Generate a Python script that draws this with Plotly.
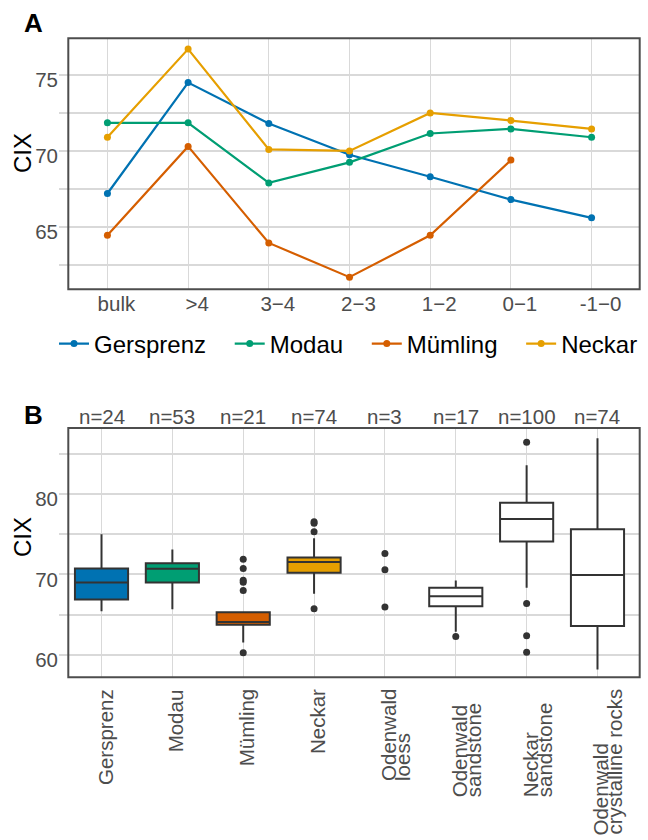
import plotly.graph_objects as go

# ---------------- data ----------------
fractions = ["bulk", ">4", "3\u22124", "2\u22123", "1\u22122", "0\u22121", "-1\u22120"]
gersprenz = [67.2, 74.5, 71.8, 69.75, 68.3, 66.8, 65.6]
modau = [71.85, 71.85, 67.9, 69.25, 71.15, 71.45, 70.9]
muemling = [64.45, 70.3, 63.95, 61.7, 64.45, 69.4, None]
neckar = [70.9, 76.7, 70.1, 70.0, 72.5, 72.0, 71.45]
river_names = ["Gersprenz", "Modau", "Mümling", "Neckar"]

groups = ["Gersprenz", "Modau", "Mümling", "Neckar", "Odenwald<br>loess",
          "Odenwald<br>sandstone", "Neckar<br>sandstone", "Odenwald<br>crystalline rocks"]
n_counts = [24, 53, 21, 74, 3, 17, 100, 74]
q1 = [66.9, 69.0, 63.75, 70.2, None, 66.05, 74.1, 63.6]
median = [69.0, 70.7, 64.1, 71.55, None, 67.3, 76.9, 69.95]
q3 = [70.75, 71.4, 65.3, 72.1, None, 68.35, 78.9, 75.6]
lower_whisker = [65.45, 65.7, 61.55, 67.6, None, 62.9, 68.35, 58.2]
upper_whisker = [75.0, 73.1, 65.3, 74.5, None, 69.25, 83.55, 86.9]
points = [
    [],
    [],
    [71.9, 70.75, 69.3, 69.05, 68.0, 60.3],
    [76.55, 76.35, 75.3, 65.75],
    [72.6, 70.6, 65.95],
    [62.3],
    [86.4, 66.4, 62.4, 60.35],
    [],
]

# ---------------- style ----------------
colors = ["#0072B2", "#009E73", "#D55E00", "#E69F00"]
box_fills = colors + ["white"] * 4
label_drop = [0, 0, 0, 0, 0, 13, 13, 0]   # extra downward offset of some axis labels (px)
FONT = "Liberation Sans, Arial, sans-serif"
TICK_GREY = "#4d4d4d"
GRID = "#d9d9d9"
W, H = 648, 840
FS = 20.5


def px_x(p):
    return p / W


def px_y(p):
    return 1 - p / H


fig = go.Figure()

# Panel A lines
for k, (name, vals, col) in enumerate(zip(river_names, [gersprenz, modau, muemling, neckar], colors)):
    pad = "\u00a0\u2002" if k < len(river_names) - 1 else ""
    fig.add_trace(go.Scatter(
        x=fractions, y=vals, mode="lines+markers", name=name + pad,
        line=dict(color=col, width=2.2), marker=dict(color=col, size=7),
        xaxis="x", yaxis="y", connectgaps=False,
    ))

# Panel B boxes
for i in range(len(groups)):
    if q1[i] is not None:
        fig.add_trace(go.Box(
            x=[i], q1=[q1[i]], median=[median[i]], q3=[q3[i]],
            lowerfence=[lower_whisker[i]], upperfence=[upper_whisker[i]],
            width=0.75, fillcolor=box_fills[i],
            line=dict(color="#333333", width=2), whiskerwidth=0,
            boxpoints=False, showlegend=False, xaxis="x2", yaxis="y2",
            hoverinfo="skip",
        ))
    if points[i]:
        fig.add_trace(go.Scatter(
            x=[i] * len(points[i]), y=points[i], mode="markers",
            marker=dict(color="#333333", size=7), showlegend=False,
            xaxis="x2", yaxis="y2", hoverinfo="skip",
        ))

xdom = [px_x(59), px_x(640)]
fig.update_layout(
    width=W, height=H, margin=dict(l=0, r=0, t=0, b=0, autoexpand=False),
    paper_bgcolor="white", plot_bgcolor="white",
    font=dict(family=FONT, color=TICK_GREY),
    boxmode="overlay",
    xaxis=dict(domain=xdom, anchor="y", type="category", categoryarray=fractions,
               range=[-0.6, 6.6], showgrid=True, gridcolor=GRID, gridwidth=1.1,
               ticks="", showline=False, zeroline=False, automargin=False,
               tickfont=dict(size=FS, color=TICK_GREY), ticklabelshift=9),
    yaxis=dict(domain=[px_y(289.3), px_y(38.3)], anchor="x", range=[60.9, 77.41],
               tick0=0, dtick=5, showgrid=True, gridcolor=GRID, gridwidth=1.8,
               minor=dict(dtick=2.5, showgrid=True, gridcolor=GRID, gridwidth=1.8),
               ticks="", showline=False, zeroline=False, automargin=False,
               tickfont=dict(size=FS, color=TICK_GREY), ticklabelshift=5),
    xaxis2=dict(domain=xdom, anchor="y2", range=[-0.6, 7.6],
                tickvals=list(range(len(groups))), showticklabels=False,
                showgrid=True, gridcolor=GRID, gridwidth=1.1, automargin=False,
                ticks="", showline=False, zeroline=False),
    yaxis2=dict(domain=[px_y(677.3), px_y(428)], anchor="x2", range=[57.24, 88.18],
                tick0=0, dtick=10, showgrid=True, gridcolor=GRID, gridwidth=1.8,
                minor=dict(dtick=5, showgrid=True, gridcolor=GRID, gridwidth=1.8),
                ticks="", showline=False, zeroline=False, automargin=False,
                tickfont=dict(size=FS, color=TICK_GREY), ticklabelshift=5),
    legend=dict(orientation="h", x=px_x(54), y=px_y(344), xanchor="left", yanchor="middle",
                font=dict(size=24, color="black"), bgcolor="rgba(0,0,0,0)",
                itemwidth=30, borderwidth=0),
)

# panel borders
for top, bot in [(38.3, 289.3), (428, 677.3)]:
    fig.add_shape(type="rect", xref="paper", yref="paper",
                  x0=px_x(68.3), x1=px_x(639.7), y0=px_y(bot), y1=px_y(top),
                  line=dict(color="#4d4d4d", width=2), fillcolor="rgba(0,0,0,0)",
                  layer="above")

ann = []
for lab, yc in [("A", 23), ("B", 415)]:
    ann.append(dict(text=f"<b>{lab}</b>", x=px_x(33), y=px_y(yc), xref="paper", yref="paper",
                    xanchor="center", yanchor="middle",
                    showarrow=False, font=dict(size=26, color="black")))
for yc in [153, 537]:
    ann.append(dict(text="CIX", x=px_x(22), y=px_y(yc), xref="paper", yref="paper",
                    xanchor="center", yanchor="middle",
                    textangle=-90, showarrow=False, font=dict(size=24, color="black")))
for i, n in enumerate(n_counts):
    ann.append(dict(text=f"n={n}", x=i, xref="x2", y=px_y(416), yref="paper",
                    xanchor="center", yanchor="middle",
                    showarrow=False, font=dict(size=FS, color=TICK_GREY)))

HIDE = "<span style='color:rgba(0,0,0,0)'>{}</span>"
LINE_TIGHTEN = 1.3 * FS - 13.7  # ggplot's tight lineheight vs plotly's 1.3em
for i, g in enumerate(groups):
    lines = g.split("<br>")
    for k in range(len(lines)):
        txt = "<br>".join(l if j == k else HIDE.format(l) for j, l in enumerate(lines))
        ann.append(dict(text=txt, x=i, xref="x2", y=px_y(687), yref="paper",
                        xanchor="left", yanchor="top", xshift=-10 - k * LINE_TIGHTEN,
                        yshift=-label_drop[i], textangle=-90, align="left",
                        showarrow=False, font=dict(size=FS, color=TICK_GREY)))
fig.update_layout(annotations=ann)

fig.write_html("out.html", config={"displayModeBar": False},
               post_script="document.body.style.margin='0';")
